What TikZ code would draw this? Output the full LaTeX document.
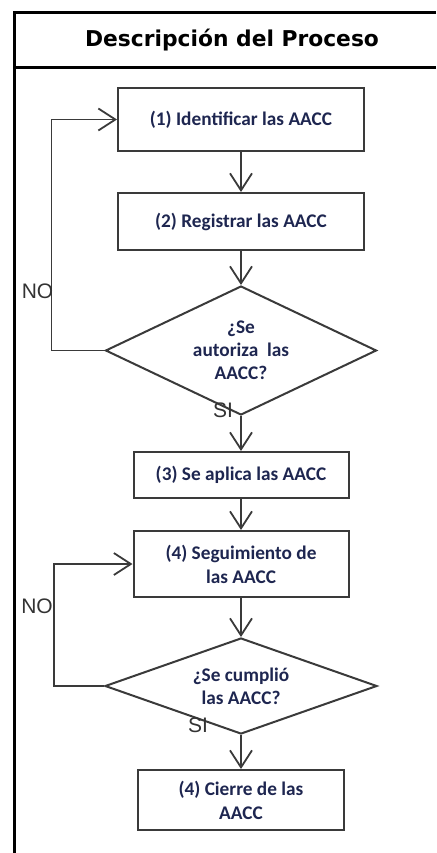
\documentclass[tikz,border=0pt]{standalone}
\usepackage{fontspec}
\setmainfont{Carlito}
\newfontfamily\titlefont{DejaVu Sans}
\newfontfamily\labelfont{Liberation Sans}
\usetikzlibrary{positioning, arrows.meta, shapes.geometric}
\definecolor{aacctext}{HTML}{1E2650}
\definecolor{linegray}{HTML}{3A3A3A}

\begin{document}
\begin{tikzpicture}[x=1pt, y=-1pt,
    >={Straight Barb[length=17pt, width=22pt]}, % offene V-Pfeilspitzen
    paso/.style={draw=linegray, line width=2pt, rectangle, align=center, inner sep=0pt, text=aacctext, font=\fontsize{19.3}{24}\selectfont\bfseries},
    decision/.style={draw=linegray, line width=2pt, diamond, align=center, inner sep=0pt, text=aacctext, font=\fontsize{19.3}{23}\selectfont\bfseries},
    flujo/.style={draw=linegray, line width=1.8pt},
    etiqueta/.style={font=\labelfont\fontsize{21}{21}\selectfont, text=black!80},
    marco/.style={line width=3pt, line join=miter}
]
\useasboundingbox (0,0) rectangle (436,853);

% 1. Rahmen mit Kopfzeile
\draw[marco] (436,12.5) -- (14,12.5) -- (14,853);
\draw[marco] (14,67.5) -- (436,67.5);
\node[font=\titlefont\bfseries\fontsize{21.8}{22}\selectfont] (titulo) at (232,40) {Descripción del Proceso};

% 2. Schritte und Entscheidungen untereinander
\node[paso, minimum width=246pt, minimum height=63pt] (p1) at (241,119.5) {(1) Identificar las AACC};
\node[paso, minimum width=246pt, minimum height=57pt, below=40pt of p1] (p2) {(2) Registrar las AACC};
\node[decision, shape aspect=2.1, minimum width=271pt, minimum height=129pt, below=34pt of p2] (d1) {¿Se\\autoriza\ \ las\\AACC?};
\node[paso, minimum width=215pt, minimum height=46pt, below=35pt of d1] (p3) {(3) Se aplica las AACC};
\node[paso, minimum width=215pt, minimum height=66pt, below=31pt of p3] (p4) {(4) Seguimiento de\\las AACC};
\node[decision, shape aspect=2.8, minimum width=272pt, minimum height=96pt, below=39pt of p4] (d2) {¿Se cumplió\\las AACC?};
\node[paso, minimum width=206pt, minimum height=60pt, below=34pt of d2] (p5) {(4) Cierre de las\\AACC};

% 3. Hauptfluss
\draw[flujo, ->] (p1.south) -- (p2.north);
\draw[flujo, ->] (p2.south) -- (d1.north);
\draw[flujo, ->] (d1.south) -- (p3.north);
\draw[flujo, ->] (p3.south) -- (p4.north);
\draw[flujo, ->] (p4.south) -- (d2.north);
\draw[flujo, ->] (d2.south) -- (p5.north);

% 4. Rueckfuehrungen (NO)
\draw[flujo, ->] (d1.west) -- ++(-53pt,0) |- (p1.west);
\draw[flujo, ->] (d2.west) -- ++(-50pt,0) |- (p4.west);

% 5. Beschriftungen
\node[etiqueta] (no1) at (37.5,291) {NO};
\node[etiqueta] (si1) at (223,410) {SI};
\node[etiqueta] (no2) at (37,606) {NO};
\node[etiqueta] (si2) at (198,725) {SI};

\end{tikzpicture}
\end{document}
